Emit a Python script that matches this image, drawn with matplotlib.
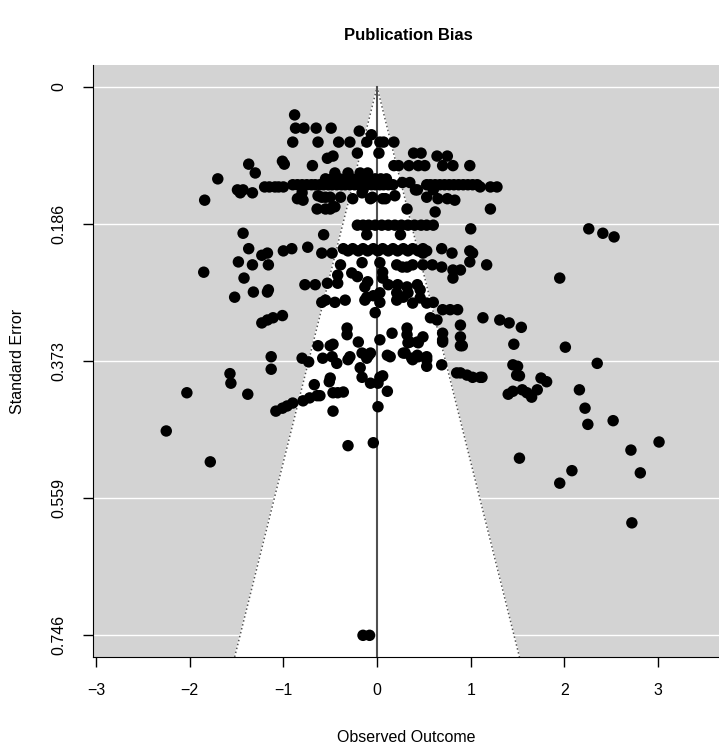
import matplotlib.pyplot as plt
import numpy as np

plt.rcParams['font.family'] = ['Liberation Sans', 'DejaVu Sans']

# standard error of each row of studies, and the observed outcomes in that row
row_se = [
    0.038, 0.056, 0.060, 0.065, 0.075, 0.090, 0.094, 0.097, 0.101, 0.105,
    0.107, 0.117, 0.125, 0.130, 0.133, 0.136, 0.140, 0.144, 0.148, 0.150,
    0.152, 0.154, 0.163, 0.166, 0.170, 0.188, 0.193, 0.199, 0.201, 0.204,
    0.218, 0.220, 0.223, 0.226, 0.229, 0.238, 0.239, 0.242, 0.245, 0.249,
    0.252, 0.253, 0.256, 0.258, 0.260, 0.265, 0.267, 0.269, 0.272, 0.276,
    0.279, 0.280, 0.284, 0.286, 0.287, 0.290, 0.293, 0.294, 0.303, 0.307,
    0.311, 0.314, 0.317, 0.321, 0.324, 0.327, 0.328, 0.335, 0.337, 0.340,
    0.344, 0.347, 0.348, 0.350, 0.352, 0.354, 0.362, 0.365, 0.367, 0.369,
    0.371, 0.374, 0.376, 0.378, 0.380, 0.382, 0.384, 0.389, 0.390, 0.392,
    0.393, 0.395, 0.396, 0.401, 0.403, 0.405, 0.412, 0.414, 0.415, 0.416,
    0.418, 0.420, 0.422, 0.423, 0.427, 0.430, 0.434, 0.435, 0.437, 0.441,
    0.454, 0.459, 0.468, 0.483, 0.484, 0.488, 0.494, 0.505, 0.510, 0.522,
    0.525, 0.539, 0.593, 0.746,
]
row_effects = [
    [-0.88],
    [-0.87, -0.78, -0.65, -0.49],
    [-0.19],
    [-0.06],
    [-0.90, -0.63, -0.41, -0.29, -0.11, 0.03, 0.07, 0.18],
    [-0.21, 0.02, 0.39, 0.47],
    [-0.47, 0.64, 0.75],
    [-0.53],
    [-1.01],
    [-1.37, -0.99],
    [-0.69, 0.18, 0.23, 0.34, 0.44, 0.51, 0.70, 0.81, 0.99],
    [-1.30, -0.45, -0.31, -0.18, -0.10],
    [-1.70, -0.55, -0.48, -0.40, -0.33, -0.27, -0.21, -0.14, -0.08, -0.02, 0.04, 0.10],
    [-0.52, -0.36, -0.25, -0.12, 0.00, 0.27, 0.35],
    [-0.90, -0.85, -0.80, -0.75, -0.70, -0.66, -0.61, -0.57, -0.52, -0.48, -0.43,
     -0.38, -0.34, -0.29, -0.24, -0.20, -0.15, -0.11, -0.06, -0.02, 0.03, 0.07,
     0.12, 0.17, 0.53, 0.57, 0.62, 0.67, 0.72, 0.77, 0.82, 0.87, 0.92, 0.97,
     1.02, 1.07],
    [-1.20, -1.15, -1.09, -1.05, -1.00, 1.10, 1.21, 1.28],
    [-1.49, -1.43, -0.15, 0.41, 0.43, 0.60],
    [-1.46, -1.33, -0.80, -0.16],
    [-0.63, 0.19],
    [-0.59, -0.55, -0.50, -0.39, -0.05, 0.53],
    [-0.85, -0.26, -0.07, 0.06, 0.09, 0.65, 0.75],
    [-1.84, -0.79, 0.83],
    [-0.47, -0.45],
    [-0.64, -0.55, -0.50, 0.32, 1.21],
    [0.62],
    [-0.21, -0.15, -0.09, -0.02, 0.05, 0.12, 0.19, 0.26, 0.33, 0.40, 0.47, 0.53, 0.60],
    [1.00, 2.26],
    [-1.43, 2.41],
    [-0.57, -0.11, 0.25],
    [2.53],
    [-0.74],
    [-1.37, -0.91, -0.36, -0.26, -0.15, -0.04, 0.06, 0.17, 0.28, 0.38, 0.49, 0.69],
    [-1.00, -0.31, -0.20, -0.10, 0.01, 0.12, 0.22, 0.33, 0.44, 0.53, 0.99],
    [-1.17, -0.59, -0.48, 0.49, 0.80, 1.02],
    [-1.23],
    [-1.48, 0.99],
    [-0.16, 0.03],
    [-1.33, -1.16, -0.39, 0.21, 0.38, 0.49, 0.59, 1.17],
    [0.27, 0.32, 0.69],
    [0.81, 0.89],
    [-1.85, 0.06],
    [-0.27],
    [-0.42],
    [-0.21],
    [-1.42, 0.06, 0.81, 1.95],
    [-0.10],
    [-0.53, -0.42],
    [-0.77, -0.66, 0.12, 0.22, 0.43],
    [-0.13, 0.32],
    [-1.16, 0.46],
    [-1.32, -1.17],
    [0.03, 0.21, 0.33],
    [-0.04],
    [-1.52, -0.11, 0.28],
    [0.46],
    [-0.55, -0.34, -0.13, 0.21],
    [-0.59, -0.45, 0.03, 0.60],
    [0.38, 0.53],
    [0.70, 0.78, 0.86],
    [-0.02],
    [-1.01],
    [-1.11, 0.57, 1.13],
    [-1.17, 0.64, 1.31],
    [-1.23, 1.41],
    [0.89],
    [1.54],
    [-0.32, 0.32],
    [0.16, 0.70],
    [-0.32, 0.32],
    [0.49, 0.89],
    [0.03, 0.70],
    [-0.20, 0.35, 0.43, 0.70],
    [0.33, 0.44],
    [-0.47, 1.46],
    [-0.63, -0.50, 0.89, 0.91],
    [2.01],
    [-0.16, -0.07, 0.28, 0.30],
    [-0.09, 0.11, 0.43],
    [-1.13, -0.48, -0.29, 0.14, 0.44, 0.53],
    [-0.80, -0.58, -0.11, 0.37],
    [-0.31, 0.38, 0.53],
    [-0.73],
    [-0.43, 2.35],
    [0.69, 1.45],
    [0.53, 1.50],
    [-0.18],
    [-1.13],
    [0.85, 0.89],
    [-1.57],
    [0.96, 1.49],
    [0.06, 1.52],
    [-0.16, 0.03, 1.02, 1.10, 1.12],
    [-0.50, 1.75],
    [-0.51, 1.81],
    [-1.56, -0.07, 0.01],
    [-0.67],
    [1.55, 1.71, 2.16],
    [0.11, 1.45],
    [-0.36],
    [-2.03, -0.47, -0.42, 1.60],
    [-1.38, 1.40],
    [-0.64, -0.61],
    [1.65],
    [-0.72],
    [-0.79],
    [-0.90],
    [-0.96],
    [0.01],
    [-1.01, 2.22],
    [-1.08, -0.47],
    [2.52],
    [2.25],
    [-2.25],
    [3.01],
    [-0.04],
    [-0.31],
    [2.71],
    [1.52],
    [-1.78],
    [2.08],
    [2.81],
    [1.95],
    [2.72],
    [-0.15, -0.08],
]

x_ticks = [-3, -2, -1, 0, 1, 2, 3]
se_ticks = [0, 0.1865, 0.373, 0.5595, 0.746]
se_tick_labels = ['0', '0.186', '0.373', '0.559', '0.746']

yi = np.concatenate([np.array(e, dtype=float) for e in row_effects])
sei = np.concatenate([np.full(len(e), s) for s, e in zip(row_se, row_effects)])

fig = plt.figure(figsize=(7.19, 7.44), dpi=100)
ax = fig.add_axes([93 / 719, (744 - 657) / 744, 626 / 719, (657 - 65) / 744])
ax.set_facecolor('#d3d3d3')
ax.set_xlim(-3.032, 3.65)
ax.set_ylim(0.7755, -0.0299)
bottom = ax.get_ylim()[0]

for t in se_ticks:
    ax.axhline(t, color='white', lw=1.0, zorder=1)

# pseudo confidence region
ax.fill([-1.96 * bottom, 0, 1.96 * bottom], [bottom, 0, bottom], color='white', zorder=2)
ax.plot([-1.96 * bottom, 0, 1.96 * bottom], [bottom, 0, bottom], ls=':', color='#555555', lw=1.1, zorder=3)
ax.plot([0, 0], [0, bottom], color='#505050', lw=1.5, zorder=3)

ax.scatter(yi, sei, s=68, c='black', edgecolors='none', zorder=4)

for side in ['top', 'right']:
    ax.spines[side].set_visible(False)
ax.set_xticks(x_ticks)
ax.set_yticks(se_ticks)
ax.set_yticklabels(se_tick_labels, rotation=90, va='center')
ax.tick_params(direction='out', length=7, width=1, labelsize=11.5, pad=12)

fig.text(408 / 719, 1 - 35 / 744, 'Publication Bias', ha='center', va='center',
         fontweight='bold', fontsize=12)
fig.text(406 / 719, 1 - 737 / 744, 'Observed Outcome', ha='center', va='center', fontsize=11.5)
fig.text(18 / 719, 1 - 361 / 744, 'Standard Error', ha='center', va='center',
         rotation=90, fontsize=11.5)

fig.savefig('out.png', dpi=100)
